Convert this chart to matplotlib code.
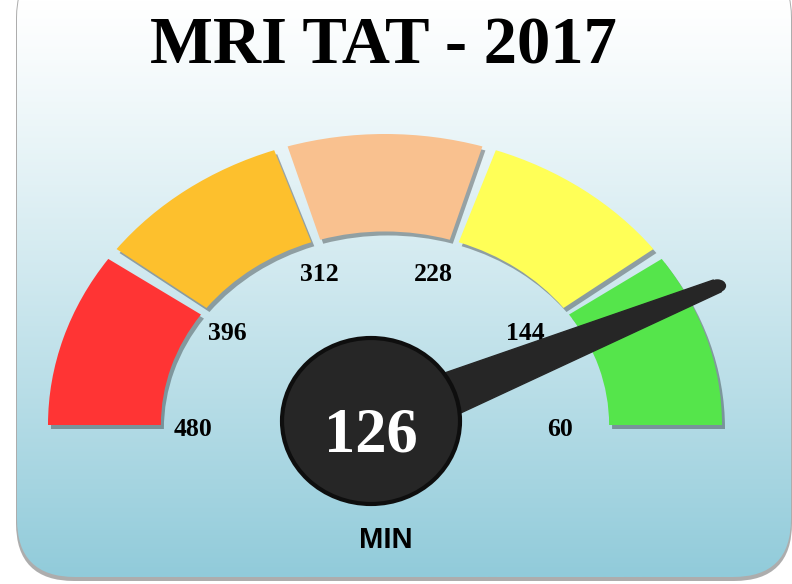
import numpy as np
import matplotlib
matplotlib.use('Agg')
import matplotlib.pyplot as plt
from matplotlib.patches import Wedge, Ellipse, FancyBboxPatch, Polygon
from matplotlib.transforms import Affine2D
from matplotlib.colors import to_rgb

# Data
title = 'MRI TAT - 2017'
unit_label = 'MIN'
scale_ticks = [480, 396, 312, 228, 144, 60]
band_colors = ['#FF3434', '#FDC02D', '#F9C18F', '#FFFF57', '#55E54B']
needle_value = 126

# Layout (pixel units of a 792x584 canvas)
W, H = 792, 584
cx, cy = 385, 425          # gauge centre
rx, ry = 337, 291          # outer radius (horizontal / vertical)
inner = 0.665              # inner radius as fraction of outer
gap = 2.4                  # degrees between bands

vmin, vmax = min(scale_ticks), max(scale_ticks)

def angle(v):
    # 480 on the left (180 deg), 60 on the right (0 deg)
    return 180.0 * (v - vmin) / (vmax - vmin)

fig = plt.figure(figsize=(W / 100, H / 100), dpi=100)
ax = fig.add_axes([0, 0, 1, 1])
ax.set_xlim(0, W)
ax.set_ylim(H, 0)
ax.axis('off')
fig.patch.set_facecolor('white')

# Background card with shadow and vertical gradient
shadow_box = FancyBboxPatch((16, -40), 776, 621, boxstyle='round,pad=0,rounding_size=58',
                            facecolor='#ADADAD', edgecolor='none', zorder=0)
ax.add_patch(shadow_box)
card = FancyBboxPatch((17, -40), 774, 617, boxstyle='round,pad=0,rounding_size=58',
                      facecolor='none', edgecolor='none', zorder=1)
ax.add_patch(card)
top_c = np.array(to_rgb('#FFFFFF'))
bot_c = np.array(to_rgb('#91CBDA'))
t = np.linspace(0, 1, 400) ** 1.15
grad = (top_c[None, :] * (1 - t[:, None]) + bot_c[None, :] * t[:, None])[:, None, :]
img = ax.imshow(grad, extent=(17, 791, 577, 0), aspect='auto', origin='upper', zorder=1,
                interpolation='bilinear')
img.set_clip_path(card)
ax.set_xlim(0, W)
ax.set_ylim(H, 0)

# Gauge transform: unit circle -> slightly flattened ellipse
gauge_tr = Affine2D().scale(rx, -ry).translate(cx, cy) + ax.transData
shadow_tr = gauge_tr + Affine2D().translate(3, -4)

for i, color in enumerate(band_colors):
    a_hi = angle(scale_ticks[i])
    a_lo = angle(scale_ticks[i + 1])
    t1 = a_lo + (gap / 2 if i < len(band_colors) - 1 else 0)
    t2 = a_hi - (gap / 2 if i > 0 else 0)
    sh = Wedge((0, 0), 1.0, t1, t2, width=1 - inner, facecolor='black', alpha=0.32,
               edgecolor='none', transform=shadow_tr, zorder=2)
    ax.add_patch(sh)
    w = Wedge((0, 0), 1.0, t1, t2, width=1 - inner, facecolor=color,
              edgecolor='none', transform=gauge_tr, zorder=3)
    ax.add_patch(w)

# Tick labels
label_tr = Affine2D().scale(184, -162).translate(cx - 8.5, cy + 4) + ax.transData
for v in scale_ticks:
    a = np.radians(angle(v))
    ax.text(np.cos(a), np.sin(a), str(v), transform=label_tr,
            ha='center', va='center', fontsize=18.5, fontweight='bold',
            family='Liberation Serif', color='black', zorder=4)

# Needle (drawn in a flatter frame so it leans like the original)
needle_tr = Affine2D().scale(rx, -0.75 * rx).translate(cx, cy - 5) + ax.transData
a = np.radians(angle(needle_value))
d = np.array([np.cos(a), np.sin(a)])
n = np.array([-d[1], d[0]])
tip_r, base_w, tip_w = 1.12, 0.095, 0.026
pts = [n * base_w, d * tip_r + n * tip_w, d * tip_r - n * tip_w, -n * base_w]
needle = Polygon(pts, closed=True, facecolor='#262626', edgecolor='#262626', linewidth=1,
                 transform=needle_tr, zorder=5)
ax.add_patch(needle)
ax.add_patch(Ellipse(d * tip_r, 2 * tip_w, 2 * tip_w, facecolor='#262626', edgecolor='none',
                     transform=needle_tr, zorder=5))

# Centre dial
ax.add_patch(Ellipse((371, 421), 178, 166, facecolor='#262626', edgecolor='#0E0E0E',
                     linewidth=3, zorder=6))
ax.text(371, 437, str(needle_value), ha='center', va='center', fontsize=45,
        fontweight='bold', family='Liberation Serif', color='white', zorder=7)

# Unit and title
ax.text(386, 540, unit_label, ha='center', va='center', fontsize=21, fontweight='bold',
        family='Liberation Sans', color='black', zorder=7)
ax.text(383, 47, title, ha='center', va='center', fontsize=48, fontweight='bold',
        family='Liberation Serif', color='black', zorder=7)

fig.savefig('out.png', dpi=100, facecolor='white')
